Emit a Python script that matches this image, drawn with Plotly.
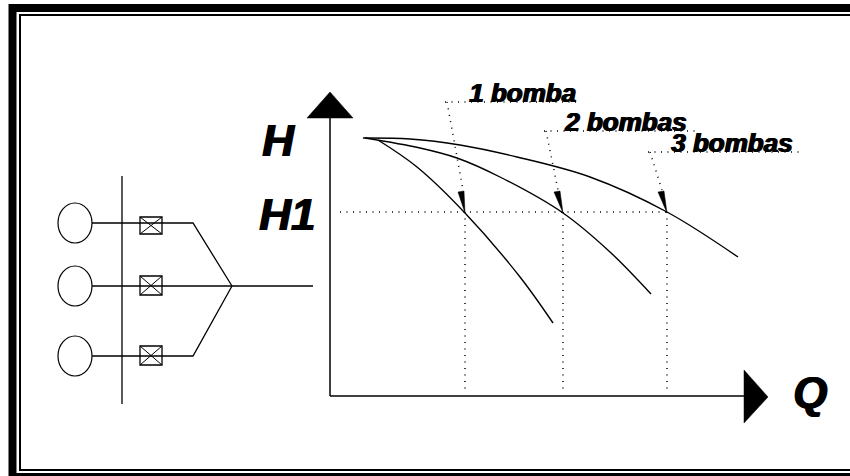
import plotly.graph_objects as go

# pump curves (axes run in image pixels)
curve1_x = [378, 417, 465, 520, 553]
curve1_y = [140, 167, 213, 277, 323]
curve2_x = [365, 420, 457, 500, 563, 610, 651]
curve2_y = [138, 148, 158, 177, 213, 252, 294]
curve3_x = [363, 410, 460, 517, 590, 667, 738]
curve3_y = [138, 139, 145, 157, 177, 212, 257]

h1_x = [340, 667]
h1_y = [212, 212]
drop_x = [465, 563, 667]
drop_y = [212, 390]

leader_labels = ["1 bomba", "2 bombas", "3 bombas"]
leader_top_x = [445, 544, 648]
leader_end_x = [580, 695, 800]
leader_y = [102, 131, 152]
leader_tip_x = [463, 558, 662]
leader_tip_y = 190
label_x = [468, 563, 670]
wedge_x = [458, 554, 658]
wedge_w = 6
wedge_top_y = 192
wedge_tip = [465, 563, 667]
wedge_tip_y = 213

axis_v_x = [330, 330]
axis_v_y = [118, 396]
axis_h_x = [330, 745]
axis_h_y = [396, 396]
arrow_up_x = [330, 307, 353, 330]
arrow_up_y = [92, 118, 118, 92]
arrow_right_x = [744, 768, 744, 744]
arrow_right_y = [370, 397, 423, 370]

# left hand pump schematic
pump_y = [223, 286, 356]
pump_x = 75
bus_x = [122, 122]
bus_y = [176, 404]
valve_top = [217, 276, 346]
valve_bottom = [234, 295, 365]
valve_x = [140, 162]
upper_branch_x = [92, 193, 232]
upper_branch_y = [223, 223, 286]
middle_branch_x = [92, 313]
middle_branch_y = [286, 286]
lower_branch_x = [92, 193, 232]
lower_branch_y = [356, 356, 286]

big_labels = ["H", "H1", "Q"]
big_x = [278, 287, 810]
big_y = [140, 214, 392]

INK = "#000000"
DOTS = "1px,5.5px"
HEAVY = "1px 0 0 #000, -0.5px 0 0 #000"
fig = go.Figure()


def line(xs, ys, width=1.3, dash=None):
    fig.add_trace(go.Scatter(x=xs, y=ys, mode="lines", hoverinfo="skip",
                             line=dict(color=INK, width=width, dash=dash)))


def solid(xs, ys):
    fig.add_trace(go.Scatter(x=xs, y=ys, mode="lines", fill="toself", fillcolor=INK,
                             hoverinfo="skip", line=dict(color=INK, width=0.5)))


for xs, ys in [(curve1_x, curve1_y), (curve2_x, curve2_y), (curve3_x, curve3_y)]:
    fig.add_trace(go.Scatter(x=xs, y=ys, mode="lines", hoverinfo="skip",
                             line=dict(color=INK, width=1.4, shape="spline")))

line(h1_x, h1_y, 1.5, DOTS)
for x in drop_x:
    line([x, x], drop_y, 1.5, DOTS)

for i, label in enumerate(leader_labels):
    line([leader_top_x[i], leader_end_x[i]], [leader_y[i]] * 2, 1.5, DOTS)
    line([leader_top_x[i] + 2, leader_tip_x[i]], [leader_y[i], leader_tip_y], 1.5, DOTS)
    solid([wedge_x[i], wedge_x[i] + wedge_w, wedge_tip[i], wedge_x[i]],
          [wedge_top_y, wedge_top_y - 1, wedge_tip_y, wedge_top_y])
    fig.add_annotation(x=label_x[i], y=leader_y[i] + 7, text=label, xref="x", yref="y",
                       xanchor="left", yanchor="bottom", showarrow=False, borderpad=0,
                       font=dict(family="Liberation Sans", size=26, color=INK,
                                 weight="bold", style="italic", shadow=HEAVY))

line(axis_v_x, axis_v_y, 1.5)
line(axis_h_x, axis_h_y, 1.5)
solid(arrow_up_x, arrow_up_y)
solid(arrow_right_x, arrow_right_y)

line(bus_x, bus_y)
line(upper_branch_x, upper_branch_y)
line(middle_branch_x, middle_branch_y)
line(lower_branch_x, lower_branch_y)
for top, bottom in zip(valve_top, valve_bottom):
    fig.add_shape(type="rect", x0=valve_x[0], x1=valve_x[1], y0=top, y1=bottom,
                  line=dict(color=INK, width=1.3), layer="above")
    line(valve_x, [top, bottom], 1)
    line(valve_x, [bottom, top], 1)
for y in pump_y:
    fig.add_shape(type="circle", x0=pump_x - 17, x1=pump_x + 17, y0=y - 20, y1=y + 20,
                  line=dict(color=INK, width=1.2))

for label, x, y in zip(big_labels, big_x, big_y):
    fig.add_annotation(x=x, y=y, text=label, xref="x", yref="y", showarrow=False,
                       font=dict(family="Liberation Sans", size=44, color=INK,
                                 weight="bold", style="italic", shadow=HEAVY))

# double frame round the picture, open on the right where the image is cut
fig.add_shape(type="rect", x0=12.5, x1=860, y0=8, y1=477, line=dict(color=INK, width=8), layer="below")
fig.add_shape(type="rect", x0=20, x1=855, y0=15, y1=470, line=dict(color=INK, width=2), layer="below")

fig.update_layout(
    width=850, height=476, autosize=False, showlegend=False,
    margin=dict(l=0, r=0, t=0, b=0),
    paper_bgcolor="white", plot_bgcolor="white",
    xaxis=dict(range=[0, 850], visible=False, fixedrange=True),
    yaxis=dict(range=[476, 0], visible=False, fixedrange=True),
)

fig.write_html("out.html", config={"displayModeBar": False},
               post_script="document.body.style.margin = '0';")
